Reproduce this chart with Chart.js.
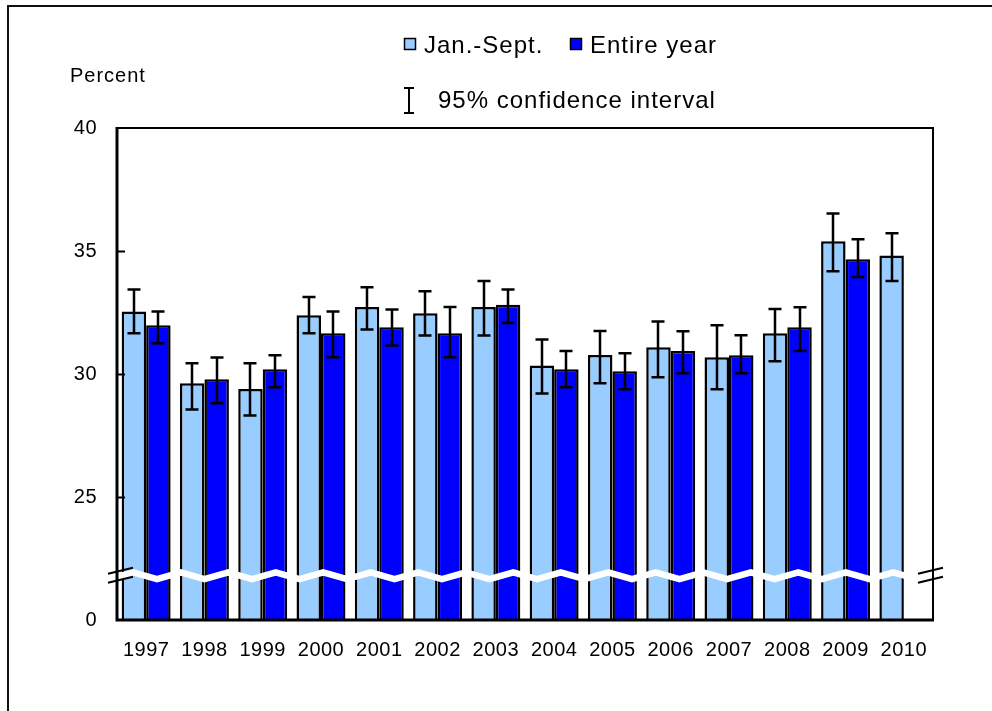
<!DOCTYPE html>
<html>
<head>
<meta charset="utf-8">
<script src="https://cdn.jsdelivr.net/npm/chart.js@4"></script>
<style>
  html, body { margin: 0; padding: 0; background: #fff; }
  canvas { display: block; }
</style>
</head>
<body>
<canvas id="c" width="992" height="711"></canvas>
<script>
// ---- Data ----
const years = ['1997','1998','1999','2000','2001','2002','2003','2004','2005','2006','2007','2008','2009','2010'];
const janSept      = [32.54, 29.62, 29.39, 32.39, 32.72, 32.47, 32.72, 30.35, 30.77, 31.09, 30.68, 31.66, 35.40, 34.82];
const janSeptLow   = [31.66, 28.56, 28.31, 31.66, 31.81, 31.56, 31.56, 29.21, 29.62, 29.87, 29.38, 30.52, 34.18, 33.78];
const janSeptHigh  = [33.44, 30.44, 30.44, 33.13, 33.53, 33.36, 33.78, 31.40, 31.75, 32.13, 31.98, 32.64, 36.52, 35.72];
const entireYear   = [31.98, 29.79, 30.19, 31.66, 31.90, 31.66, 32.81, 30.19, 30.11, 30.93, 30.76, 31.90, 34.66, null];
const entireLow    = [31.25, 28.81, 29.46, 30.68, 31.16, 30.68, 32.07, 29.46, 29.38, 30.03, 30.03, 30.93, 33.94, null];
const entireHigh   = [32.54, 30.67, 30.76, 32.54, 32.62, 32.72, 33.44, 30.93, 30.84, 31.74, 31.58, 32.71, 35.48, null];
const yTickValues  = [20, 25, 30, 35, 40];
const yTickLabels  = ['0', '25', '30', '35', '40'];
const seriesNames  = ['Jan.-Sept.', 'Entire year'];
const ciLabel      = '95% confidence interval';
const axisTitle    = 'Percent';
const breakValue   = 21.8;

const FONT = '"Liberation Sans", Arial, sans-serif';
const COL_LIGHT = '#99CCFF';
const COL_DARK = '#0000FF';

const decorPlugin = {
  id: 'decor',
  beforeDraw(chart) {
    chart.ctx.letterSpacing = '0.5px';
  },
  afterDatasetsDraw(chart) {
    const ctx = chart.ctx;
    const ys = chart.scales.y;
    const ca = chart.chartArea;
    const lows = [janSeptLow, entireLow];
    const highs = [janSeptHigh, entireHigh];
    ctx.save();
    // error bars
    ctx.strokeStyle = '#000';
    ctx.lineWidth = 2.5;
    chart.data.datasets.forEach((ds, di) => {
      const meta = chart.getDatasetMeta(di);
      meta.data.forEach((bar, i) => {
        if (lows[di][i] == null) return;
        const x = Math.round(bar.x);
        const yl = ys.getPixelForValue(lows[di][i]);
        const yh = ys.getPixelForValue(highs[di][i]);
        ctx.beginPath();
        ctx.moveTo(x, yl); ctx.lineTo(x, yh);
        ctx.moveTo(x - 6.5, yh); ctx.lineTo(x + 6.5, yh);
        ctx.moveTo(x - 6.5, yl); ctx.lineTo(x + 6.5, yl);
        ctx.stroke();
      });
    });
    // axis break zigzag (white band)
    const yb = ys.getPixelForValue(breakValue);
    const period = 47.5;
    const pts = [];
    const base = ca.left + 40 - period * 2;
    for (let k = 0; k < 60; k++) {
      const x = base + k * period / 2;
      const y = (k % 2 === 0) ? yb + 3.4 : yb - 3.4;
      pts.push([x, y]);
    }
    ctx.save();
    ctx.beginPath();
    ctx.rect(ca.left + 2, yb - 12, ca.right - ca.left - 4, 24);
    ctx.clip();
    ctx.strokeStyle = '#fff';
    ctx.lineWidth = 6.5;
    ctx.lineJoin = 'miter';
    ctx.beginPath();
    pts.forEach((p, i) => { if (i === 0) ctx.moveTo(p[0], p[1]); else ctx.lineTo(p[0], p[1]); });
    ctx.stroke();
    ctx.restore();
    ctx.restore();
  },
  afterDraw(chart) {
    const ctx = chart.ctx;
    const ys = chart.scales.y;
    const ca = chart.chartArea;
    ctx.save();
    // plot frame
    ctx.strokeStyle = '#000';
    ctx.lineWidth = 2;
    ctx.beginPath();
    ctx.moveTo(ca.left, ca.top); ctx.lineTo(ca.right, ca.top); ctx.lineTo(ca.right, ca.bottom);
    ctx.stroke();
    ctx.lineWidth = 3;
    ctx.beginPath();
    ctx.moveTo(ca.left, ca.top - 1); ctx.lineTo(ca.left, ca.bottom);
    ctx.lineTo(ca.right + 1, ca.bottom);
    ctx.stroke();
    // inside tick marks
    ctx.lineWidth = 2;
    yTickValues.forEach(v => {
      if (v === yTickValues[0] || v === yTickValues[yTickValues.length - 1]) return;
      const y = Math.round(ys.getPixelForValue(v)) + 0.5;
      ctx.beginPath(); ctx.moveTo(ca.left, y); ctx.lineTo(ca.left + 8, y); ctx.stroke();
    });
    // break slashes
    const yb = ys.getPixelForValue(breakValue);
    ctx.lineWidth = 2;
    [[ca.left - 9, ca.left + 16], [ca.right - 15, ca.right + 10]].forEach(([xa, xb]) => {
      ctx.beginPath();
      ctx.moveTo(xa, yb - 2); ctx.lineTo(xb, yb - 8);
      ctx.moveTo(xa, yb + 7); ctx.lineTo(xb, yb + 1);
      ctx.stroke();
    });
    // outer frame
    ctx.strokeStyle = '#111';
    ctx.lineWidth = 2;
    ctx.beginPath();
    ctx.moveTo(8, chart.height + 2); ctx.lineTo(8, 6); ctx.lineTo(chart.width + 2, 6);
    ctx.stroke();
    // axis title
    ctx.fillStyle = '#000';
    ctx.letterSpacing = '1px';
    ctx.font = '20px ' + FONT;
    ctx.textBaseline = 'middle';
    ctx.textAlign = 'left';
    ctx.fillText(axisTitle, 70, 76);
    // legend
    ctx.font = '24px ' + FONT;
    ctx.lineWidth = 1.5;
    const items = [[404, COL_LIGHT, seriesNames[0]], [570, COL_DARK, seriesNames[1]]];
    items.forEach(([x, col, txt]) => {
      ctx.fillStyle = col;
      ctx.fillRect(x, 38, 12, 12);
      ctx.strokeStyle = '#000';
      ctx.strokeRect(x + 0.5, 38.5, 11, 11);
      ctx.fillStyle = '#000';
      ctx.fillText(txt, x + 20, 46);
    });
    ctx.lineWidth = 2;
    ctx.beginPath();
    ctx.moveTo(409, 88); ctx.lineTo(409, 113);
    ctx.moveTo(404, 88); ctx.lineTo(414, 88);
    ctx.moveTo(404, 113); ctx.lineTo(414, 113);
    ctx.stroke();
    ctx.fillText(ciLabel, 438, 101);
    ctx.restore();
  }
};

new Chart(document.getElementById('c'), {
  type: 'bar',
  data: {
    labels: years,
    datasets: [
      { label: seriesNames[0], data: janSept, backgroundColor: COL_LIGHT, borderColor: '#000', borderWidth: 2.5, borderSkipped: 'start' },
      { label: seriesNames[1], data: entireYear, backgroundColor: COL_DARK, borderColor: '#000', borderWidth: 2.5, borderSkipped: 'start' }
    ]
  },
  options: {
    responsive: false,
    animation: false,
    devicePixelRatio: 1,
    layout: { padding: { top: 128, right: 59, left: 0, bottom: 0 } },
    datasets: { bar: { categoryPercentage: 0.84, barPercentage: 1.0 } },
    plugins: { legend: { display: false }, tooltip: { enabled: false } },
    scales: {
      x: {
        grid: { display: false, drawTicks: false },
        border: { display: false },
        ticks: { color: '#000', font: { family: FONT, size: 20 }, padding: 18, maxRotation: 0, autoSkip: false },
        afterFit: s => { s.height = 91; }
      },
      y: {
        min: 20, max: 40,
        afterBuildTicks: s => { s.ticks = yTickValues.map(v => ({ value: v })); },
        grid: { display: false, drawTicks: false },
        border: { display: false },
        ticks: {
          color: '#000', font: { family: FONT, size: 20 }, padding: 20,
          callback: (v) => { const i = yTickValues.indexOf(v); return i >= 0 ? yTickLabels[i] : ''; }
        },
        afterFit: s => { s.width = 117; }
      }
    }
  },
  plugins: [decorPlugin]
});
</script>
</body>
</html>
